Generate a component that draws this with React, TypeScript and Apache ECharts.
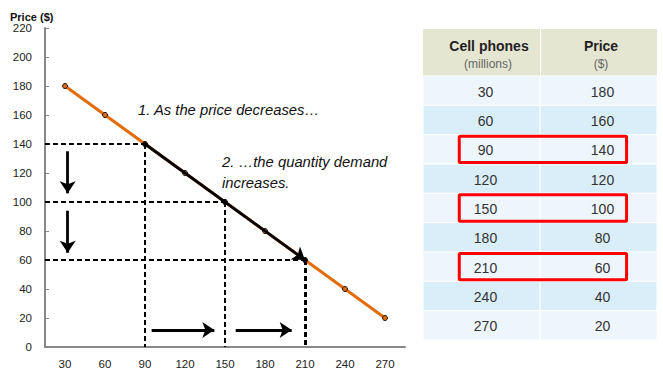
import React, { useEffect, useRef } from "react";
import * as echarts from "echarts";

// ---- data ----
const quantities = [30, 60, 90, 120, 150, 180, 210, 240, 270];
const prices = [180, 160, 140, 120, 100, 80, 60, 40, 20];
const quantityLabels = quantities.map(String);
const highlightedQuantities = [90, 150, 210];
const yMin = 0;
const yMax = 220;
const yStep = 20;
const xMin = 15;
const xMax = 285;
// annotation arrows in data coordinates [start, end]
const downArrows = [
  [[32, 135], [32, 106]],
  [[32, 94], [32, 65]],
];
const rightArrows = [
  [[95, 11.7], [142, 11.7]],
  [[158, 11.7], [200, 11.7]],
];
const note1 = "1. As the price decreases…";
const note2a = "2. …the quantity demand";
const note2b = "increases.";
const headerLeft = ["Cell phones", "(millions)"];
const headerRight = ["Price", "($)"];
const yAxisTitle = "Price ($)";

const FONT = "'Liberation Sans', Arial, sans-serif";
const ORANGE = "#E46C0A";

export default function App() {
  const ref = useRef<HTMLDivElement>(null);
  useEffect(() => {
    if (!ref.current) return;
    const chart = echarts.init(ref.current, undefined, { renderer: "svg" });

    const priceOf = (q: number) => prices[quantities.indexOf(q)];
    const highlightPts = highlightedQuantities.map((q) => [q, priceOf(q)]);

    const dashedLines: any[] = [];
    highlightedQuantities.forEach((q, i) => {
      const p = priceOf(q);
      dashedLines.push([{ coord: [xMin, p] }, { coord: [q, p] }]);
      dashedLines.push([
        { coord: [q, p], lineStyle: { width: i === 2 ? 3 : 2 } },
        { coord: [q, yMin] },
      ]);
    });

    const arrowLines: any[] = [...downArrows, ...rightArrows].map((a) => [
      { coord: a[0] },
      { coord: a[1] },
    ]);
    const first = highlightPts[0];
    const last = highlightPts[highlightPts.length - 1];

    const tableRows = quantities.map((q, i) => [q, prices[i]]);
    const tableData: any[] = [];
    tableRows.forEach((r, i) => {
      tableData.push([0, i, r[0]]);
      tableData.push([1, i, r[1]]);
    });
    const highlightRows = highlightedQuantities.map((q) => [quantities.indexOf(q)]);

    const noteFont = `italic 14.8px ${FONT}`;

    const option: any = {
      animation: false,
      backgroundColor: "#ffffff",
      textStyle: { fontFamily: FONT },
      grid: [
        { left: 45, top: 28, width: 360, height: 319 },
        { left: 423, top: 76, width: 234, height: 264 },
      ],
      xAxis: [
        { type: "value", min: xMin, max: xMax, show: false, gridIndex: 0, position: "bottom" },
        {
          type: "category",
          data: quantityLabels,
          gridIndex: 0,
          position: "bottom",
          boundaryGap: true,
          axisLine: { lineStyle: { color: "#888888", width: 2 } },
          axisTick: { inside: true, alignWithLabel: true, interval: 0, length: 4, lineStyle: { color: "#888888" } },
          axisLabel: { color: "#222", fontSize: 11.5, margin: 11, fontFamily: FONT, interval: 0 },
          splitLine: { show: false },
        },
        { type: "category", data: ["q", "p"], gridIndex: 1, show: false },
      ],
      yAxis: [
        {
          type: "value",
          min: yMin,
          max: yMax,
          interval: yStep,
          gridIndex: 0,
          axisLine: { show: true, lineStyle: { color: "#888888", width: 2 } },
          axisTick: { show: true, inside: true, length: 4, lineStyle: { color: "#888888" } },
          axisLabel: { color: "#222", fontSize: 11.5, margin: 13, fontFamily: FONT },
          splitLine: { show: false },
        },
        {
          type: "category",
          data: quantityLabels,
          inverse: true,
          gridIndex: 1,
          show: false,
        },
      ],
      graphic: [
        {
          type: "text",
          left: 10,
          top: 11,
          style: { text: yAxisTitle, font: `bold 11px ${FONT}`, fill: "#111" },
        },
        {
          type: "text",
          x: 138,
          y: 110,
          style: { text: note1, font: noteFont, fill: "#111", verticalAlign: "middle" },
        },
        {
          type: "text",
          x: 222,
          y: 162,
          style: { text: note2a, font: noteFont, fill: "#111", verticalAlign: "middle" },
        },
        {
          type: "text",
          x: 222,
          y: 183,
          style: { text: note2b, font: noteFont, fill: "#111", verticalAlign: "middle" },
        },
        // table header
        { type: "rect", shape: { x: 423, y: 29, width: 234, height: 47 }, style: { fill: "#E5E6D2" } },
        { type: "line", shape: { x1: 540.5, y1: 29, x2: 540.5, y2: 76 }, style: { stroke: "#fff", lineWidth: 1 } },
        {
          type: "text",
          x: 489,
          y: 46,
          style: { text: headerLeft[0], font: `bold 14px ${FONT}`, fill: "#222", align: "center", verticalAlign: "middle" },
        },
        {
          type: "text",
          x: 488,
          y: 64,
          style: { text: headerLeft[1], font: `12px ${FONT}`, fill: "#666", align: "center", verticalAlign: "middle" },
        },
        {
          type: "text",
          x: 601,
          y: 46,
          style: { text: headerRight[0], font: `bold 14px ${FONT}`, fill: "#222", align: "center", verticalAlign: "middle" },
        },
        {
          type: "text",
          x: 601,
          y: 64,
          style: { text: headerRight[1], font: `12px ${FONT}`, fill: "#666", align: "center", verticalAlign: "middle" },
        },
      ],
      series: [
        {
          type: "line",
          xAxisIndex: 0,
          yAxisIndex: 0,
          data: quantities.map((q, i) => [q, prices[i]]),
          lineStyle: { color: ORANGE, width: 3 },
          symbol: "circle",
          symbolSize: 5,
          itemStyle: { color: ORANGE, borderColor: "#111", borderWidth: 1 },
          z: 2,
        },
        {
          type: "scatter",
          xAxisIndex: 0,
          yAxisIndex: 0,
          data: highlightPts,
          symbol: "circle",
          symbolSize: 5,
          itemStyle: { color: "#000" },
          z: 4,
          markLine: {
            silent: true,
            symbol: ["none", "arrow"],
            symbolSize: 12,
            label: { show: false },
            lineStyle: { color: "#000", width: 2.8, type: "solid" },
            data: [[{ coord: first }, { coord: last }], ...arrowLines],
          },
        },
        {
          type: "scatter",
          xAxisIndex: 0,
          yAxisIndex: 0,
          data: [],
          z: 3,
          markLine: {
            silent: true,
            symbol: ["none", "none"],
            label: { show: false },
            lineStyle: { color: "#000", width: 2, type: [5, 3] },
            data: dashedLines,
          },
        },
        {
          type: "custom",
          xAxisIndex: 2,
          yAxisIndex: 1,
          data: tableData,
          renderItem: (params: any, api: any) => {
            const col = api.value(0);
            const row = api.value(1);
            const c = api.coord([col, row]);
            const s = api.size([1, 1]);
            return {
              type: "group",
              children: [
                {
                  type: "rect",
                  shape: { x: c[0] - s[0] / 2, y: c[1] - s[1] / 2, width: s[0], height: s[1] },
                  style: { fill: row % 2 === 0 ? "#EEF6FD" : "#DAEEFA", stroke: "#ffffff", lineWidth: 1 },
                },
                {
                  type: "text",
                  x: c[0] + (col === 1 ? 4 : 4),
                  y: c[1] + 1,
                  style: {
                    text: String(api.value(2)),
                    align: "center",
                    verticalAlign: "middle",
                    fontSize: 14,
                    fontFamily: FONT,
                    fill: "#333",
                  },
                },
              ],
            };
          },
        },
        {
          type: "custom",
          xAxisIndex: 2,
          yAxisIndex: 1,
          data: highlightRows,
          z: 5,
          renderItem: (params: any, api: any) => {
            const row = api.value(0);
            const c0 = api.coord([0, row]);
            const c1 = api.coord([1, row]);
            const s = api.size([1, 1]);
            const x0 = c0[0] - s[0] * 0.19;
            const x1 = c1[0] + s[0] * 0.24;
            return {
              type: "rect",
              shape: { x: x0, y: c0[1] - s[1] / 2 + 1.5, width: x1 - x0, height: s[1] - 3, r: 1 },
              style: { fill: "none", stroke: "#FF0000", lineWidth: 3 },
            };
          },
        },
      ],
    };
    chart.setOption(option);
    return () => chart.dispose();
  }, []);
  return (
    <div
      ref={ref}
      style={{ position: "fixed", left: 0, top: 0, width: 663, height: 371, background: "#fff" }}
    />
  );
}
